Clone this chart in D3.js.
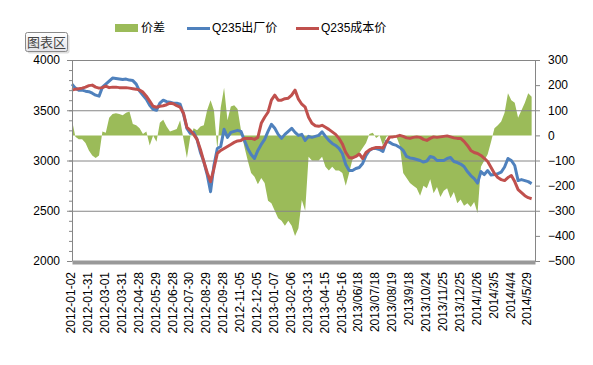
<!DOCTYPE html>
<html><head><meta charset="utf-8">
<script src="https://cdn.jsdelivr.net/npm/d3@7"></script>
<style>
body{margin:0;background:#fff;}
svg{display:block;font-family:"Liberation Sans",Arial,"Noto Sans CJK SC",sans-serif;}
</style>
</head><body>
<svg id="c" width="593" height="365"></svg>
<script>
const seriesNames = ["价差", "Q235出厂价", "Q235成本价"];
const seriesColors = ["#9BBB59", "#4F81BD", "#C0504D"];
const tickLabels = ["2012-01-02","2012-01-31","2012-03-01","2012-03-31","2012-04-28","2012-05-29","2012-06-28",
  "2012-07-30","2012-08-29","2012-09-28","2012-11-05","2012-12-05","2013-01-07","2013-02-06","2013-03-13",
  "2013-04-15","2013-05-16","2013/06/18","2013/07/18","2013/08/19","2013/9/18","2013/10/24","2013/11/25",
  "2013/12/25","2014/1/26","2014/3/5","2014/4/4","2014/5/29"];
const labelEvery = 5;
const factoryPrice = [
 3760,3720,3700,3700,3690,3685,3670,3650,3640,3730,
 3760,3790,3820,3815,3810,3805,3810,3800,3795,3760,
 3690,3650,3610,3550,3510,3500,3570,3600,3585,3580,
 3570,3570,3560,3460,3320,3270,3280,3210,3080,2990,
 2860,2690,2950,3120,3140,3310,3230,3280,3290,3300,
 3290,3200,3120,3060,3020,3100,3160,3210,3290,3360,
 3320,3260,3220,3260,3290,3320,3280,3250,3260,3200,
 3240,3230,3240,3250,3285,3240,3200,3170,3150,3120,
 3070,2960,2900,2900,2920,2930,2970,3050,3100,3120,
 3120,3110,3090,3190,3180,3160,3150,3130,3100,3040,
 3025,3020,3010,3000,2985,2995,3040,3030,3000,3000,
 3000,3020,3030,2990,2980,2965,2940,2890,2850,2820,
 2775,2890,2860,2900,2855,2860,2870,2885,2935,3020,
 3000,2950,2800,2810,2800,2790,2770];
const costPrice = [
 3700,3710,3715,3720,3730,3745,3750,3730,3720,3725,
 3740,3725,3730,3730,3725,3725,3725,3720,3715,3710,
 3700,3680,3640,3590,3540,3530,3540,3545,3555,3570,
 3565,3545,3530,3470,3330,3300,3260,3210,3110,2990,
 2880,2790,2920,3070,3100,3120,3140,3160,3180,3195,
 3200,3220,3220,3220,3210,3230,3370,3430,3480,3600,
 3650,3600,3600,3615,3620,3650,3700,3610,3560,3530,
 3430,3370,3345,3340,3350,3330,3310,3285,3260,3220,
 3165,3080,3030,3025,3040,3065,3020,3080,3105,3120,
 3130,3130,3125,3180,3235,3235,3240,3250,3240,3225,
 3220,3230,3235,3230,3210,3200,3220,3235,3230,3235,
 3240,3245,3235,3225,3220,3220,3190,3150,3100,3080,
 3070,3050,3020,2990,2930,2870,2830,2810,2800,2830,
 2850,2790,2710,2680,2650,2630,2620];
const spread = [
 60,-5,-15,-15,-30,-60,-80,-90,-80,15,
 10,70,85,88,85,80,90,95,45,40,
 28,5,15,-40,0,-25,50,62,35,15,
 20,25,60,-15,-90,-5,28,20,35,40,
 101,140,100,-55,110,190,60,115,120,105,
 20,-45,-100,-150,-165,-195,-170,-190,-260,-270,
 -300,-330,-340,-360,-340,-360,-400,-370,-257,-300,
 -85,-100,-100,-100,-85,-125,-140,-125,-140,-140,
 -150,-200,-150,-95,-80,-70,-50,-30,5,10,
 -10,0,-40,-5,0,-2,-5,-40,-150,-170,
 -190,-200,-210,-240,-200,-210,-175,-230,-205,-245,
 -220,-210,-250,-225,-270,-255,-280,-270,-285,-265,
 -310,-125,-100,-75,-25,28,40,55,90,168,
 140,130,70,100,130,168,154];
const leftTicks = [2000, 2500, 3000, 3500, 4000];
const leftMinorTicks = d3.range(2000, 4001, 100);
const rightTicks = [-500, -400, -300, -200, -100, 0, 100, 200, 300];

const svg = d3.select("#c");
const L = 72, R = 535, T = 60, B = 261;
const N = factoryPrice.length;
const x = d3.scaleLinear().domain([0, N]).range([L, R]);
const y = d3.scaleLinear().domain([2000, 4000]).range([B, T]);
const yR = d3.scaleLinear().domain([-500, 300]).range([B, T]);
const axisColor = "#868686";

// spread area (secondary axis)
svg.append("path")
  .datum(spread)
  .attr("fill", seriesColors[0])
  .attr("d", d3.area().x((d, i) => x(i)).y0(yR(0)).y1(d => yR(d)));

// gridlines
const grid = svg.append("g").attr("transform", `translate(${L},0)`)
  .call(d3.axisRight(y).tickValues(leftTicks.slice(1)).tickSize(R - L).tickFormat(""));
grid.select(".domain").remove();
grid.selectAll("line").attr("stroke", axisColor);

// lines
const line = d3.line().x((d, i) => x(i)).y(d => y(d)).curve(d3.curveLinear);
svg.append("path").datum(factoryPrice).attr("fill", "none").attr("stroke", seriesColors[1])
  .attr("stroke-width", 3).attr("stroke-linejoin", "round").attr("d", line);
svg.append("path").datum(costPrice).attr("fill", "none").attr("stroke", seriesColors[2])
  .attr("stroke-width", 3).attr("stroke-linejoin", "round").attr("d", line);

// left axis
const gl = svg.append("g").attr("transform", `translate(${L},0)`)
  .call(d3.axisLeft(y).tickValues(leftTicks).tickFormat(d3.format("d"))
    .tickSizeInner(5).tickSizeOuter(0).tickPadding(7));
const glm = svg.append("g").attr("transform", `translate(${L},0)`)
  .call(d3.axisLeft(y).tickValues(leftMinorTicks).tickSize(3).tickFormat(""));
glm.select(".domain").remove();
[gl, glm].forEach(g => { g.selectAll("line,path").attr("stroke", axisColor); });
gl.selectAll("text").attr("font-size", 12).attr("fill", "#000").attr("font-family", "Liberation Sans, Arial");

// right axis
const gr = svg.append("g").attr("transform", `translate(${R},0)`)
  .call(d3.axisRight(yR).tickValues(rightTicks).tickFormat(d3.format("d"))
    .tickSizeInner(5).tickSizeOuter(0).tickPadding(8));
gr.selectAll("line,path").attr("stroke", axisColor);
gr.selectAll("text").attr("font-size", 12).attr("fill", "#000").attr("font-family", "Liberation Sans, Arial");

// bottom axis
const xTickVals = tickLabels.map((_, i) => i * labelEvery);
const gb = svg.append("g").attr("transform", `translate(0,${B + 1})`)
  .call(d3.axisBottom(x).tickValues(xTickVals).tickSize(0).tickFormat(v => tickLabels[v / labelEvery]));
gb.select(".domain").attr("stroke", "#999").attr("stroke-width", 4);
gb.selectAll("text")
  .attr("font-size", 12).attr("fill", "#000").attr("font-family", "Liberation Sans, Arial")
  .attr("text-anchor", "end")
  .attr("transform", "translate(-1.5,0) rotate(-90)")
  .attr("x", -10).attr("y", 0).attr("dy", "0.35em");

// legend
const lg = svg.append("g").attr("font-size", 12).attr("font-family", "Liberation Sans, Arial, Noto Sans CJK SC");
lg.append("rect").attr("x", 115).attr("y", 24).attr("width", 23).attr("height", 8).attr("fill", seriesColors[0]);
lg.append("text").attr("x", 141).attr("y", 32).text(seriesNames[0]);
lg.append("line").attr("x1", 187).attr("x2", 210).attr("y1", 28.5).attr("y2", 28.5)
  .attr("stroke", seriesColors[1]).attr("stroke-width", 3);
lg.append("text").attr("x", 212).attr("y", 32).text(seriesNames[1]);
lg.append("line").attr("x1", 296).attr("x2", 319).attr("y1", 28.5).attr("y2", 28.5)
  .attr("stroke", seriesColors[2]).attr("stroke-width", 3);
lg.append("text").attr("x", 321).attr("y", 32).text(seriesNames[2]);

// "图表区" tooltip
const defs = svg.append("defs");
const gradTip = defs.append("linearGradient").attr("id", "tipg").attr("x1", 0).attr("y1", 0).attr("x2", 0).attr("y2", 1);
gradTip.append("stop").attr("offset", "0%").attr("stop-color", "#ffffff");
gradTip.append("stop").attr("offset", "100%").attr("stop-color", "#e3e3e8");
const tip = svg.append("g");
tip.append("rect").attr("x", 27.5).attr("y", 34.5).attr("width", 42).attr("height", 19).attr("rx", 2)
  .attr("fill", "#c8c8c8").attr("opacity", 0.6);
tip.append("rect").attr("x", 25.5).attr("y", 32.5).attr("width", 42).attr("height", 19).attr("rx", 2)
  .attr("fill", "url(#tipg)").attr("stroke", "#8a8a8a");
tip.append("text").attr("x", 46.5).attr("y", 47).attr("text-anchor", "middle")
  .attr("font-size", 13).attr("fill", "#444").attr("font-family", "Noto Sans CJK SC").text("图表区");
</script>
</body></html>
